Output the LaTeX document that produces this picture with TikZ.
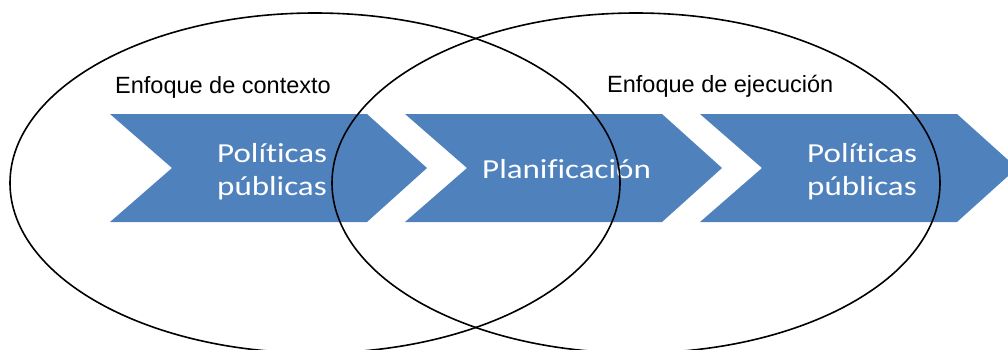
\documentclass[tikz,border=0pt]{standalone}
\usepackage{fontspec}
\setmainfont{Liberation Sans}
\newfontfamily\chevfont[FakeStretch=1.2,Ligatures=NoCommon]{Carlito}
\definecolor{chevblue}{RGB}{79,129,189}
\tikzset{
  chev/.style={fill=chevblue, draw=none},
  ring/.style={draw=black, line width=1.6pt},
  lbl/.style={anchor=base west, inner sep=0pt, font=\fontsize{23.5}{28}\selectfont},
  ctext/.style={anchor=base west, inner sep=0pt, text=white, font=\chevfont\fontsize{27.5}{33}\selectfont}
}
\begin{document}
\begin{tikzpicture}[x=1pt,y=-1pt]
\useasboundingbox (0,0) rectangle (1008,349);
% chevrons
\foreach \xo in {110,405,700}{
  \fill[chev] (\xo,114) -- ++(257,0) -- ++(60,54) -- ++(-60,54) -- (\xo,222) -- ++(62,-54) -- cycle;
}
% chevron texts
\node[ctext] (p1a) at (217,162) {Políticas};
\node[ctext] (p1b) at (217,195) {públicas};
\node[ctext] (pl)  at (482,178) {Planificación};
\node[ctext] (p3a) at (807,162) {Políticas};
\node[ctext] (p3b) at (807,195) {públicas};
% ellipses
\draw[ring] (315,183) ellipse [x radius=305, y radius=170];
\draw[ring] (636,183) ellipse [x radius=304, y radius=170];
% labels
\node[lbl] (ctx) at (115,93) {Enfoque de contexto};
\node[lbl] (eje) at (607,92) {Enfoque de ejecución};
\end{tikzpicture}
\end{document}
